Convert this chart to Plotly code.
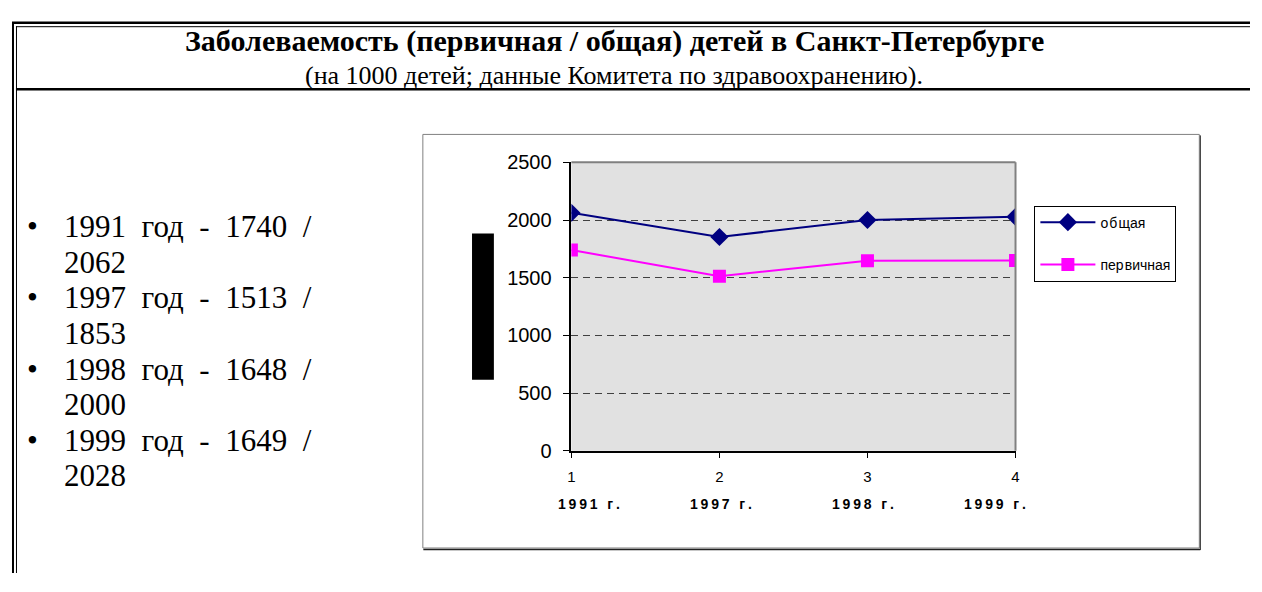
import plotly.graph_objects as go

# ---- data ----
x_index = [1, 2, 3, 4]
year_labels = ["1991 г.", "1997 г.", "1998 г.", "1999 г."]
year_label_pos = [1.12, 2.01, 2.97, 3.86]
obshchaya = [2062, 1853, 2000, 2028]
pervichnaya = [1740, 1513, 1648, 1649]
bullet_years = ["1991", "1997", "1998", "1999"]
series_names = ["о\u200aб\u200aщая", "пер\u200aвичная"]

title_text = "Заболеваемость (первичная / общая) детей в Санкт-Петербурге"
subtitle_text = "(на 1000 детей; данные Комитета по здравоохранению)."

# the page body has an 8px margin; size the figure so the page never overflows
OFF = 8
W, H = 1262 - 2 * OFF, 592 - 2 * OFF


def px(x):
    return (x - OFF) / W


def py(y):
    return 1 - (y - OFF) / H


serif = "Liberation Serif, Times New Roman, serif"
sans = "Liberation Sans, Arial, sans-serif"

fig = go.Figure()
fig.add_trace(go.Scatter(
    x=x_index, y=obshchaya, name=series_names[0], mode="lines+markers",
    line=dict(color="#000080", width=2),
    marker=dict(symbol="diamond", size=14, color="#000080"),
    legendgroup="a"))
fig.add_trace(go.Scatter(
    x=x_index, y=pervichnaya, name=series_names[1], mode="lines+markers",
    line=dict(color="#FF00FF", width=2),
    marker=dict(symbol="square", size=13, color="#FF00FF"),
    legendgroup="b"))

fig.update_layout(
    width=W, height=H,
    margin=dict(l=0, r=0, t=0, b=0),
    paper_bgcolor="white",
    plot_bgcolor="#E1E1E1",
    showlegend=True,
    legend=dict(x=px(1037), y=py(202), xanchor="left", yanchor="top",
                bordercolor="black", borderwidth=1, bgcolor="white",
                font=dict(family=sans, size=14, color="black"),
                itemwidth=55, tracegroupgap=21,
                traceorder="grouped"),
    xaxis=dict(domain=[px(571), px(1018)], range=[1, 4],
               tickmode="array", tickvals=x_index, ticktext=[str(v) for v in x_index],
               showgrid=False, zeroline=False, showline=True, linecolor="black", linewidth=1.5,
               ticks="outside", ticklen=5, tickcolor="black",
               tickfont=dict(family=sans, size=15, color="black"),
               ticklabelstandoff=6, fixedrange=True),
    yaxis=dict(domain=[py(457), py(157)], range=[0, 2500], dtick=500,
               showgrid=True, gridcolor="#404040", griddash="7px,5px", gridwidth=1,
               zeroline=False, showline=True, linecolor="black", linewidth=1.5,
               ticks="outside", ticklen=7, tickcolor="black",
               tickfont=dict(family=sans, size=20, color="black"),
               ticklabelstandoff=7, fixedrange=True),
)

shapes = []
# page frame: double top and left lines
shapes.append(dict(type="line", xref="paper", yref="paper", x0=px(8), x1=1, y0=py(12), y1=py(12),
                   line=dict(color="black", width=2.5)))
shapes.append(dict(type="line", xref="paper", yref="paper", x0=px(12), x1=1, y0=py(16), y1=py(16),
                   line=dict(color="black", width=1)))
shapes.append(dict(type="line", xref="paper", yref="paper", x0=px(9), x1=px(9), y0=py(11), y1=0,
                   line=dict(color="black", width=2)))
shapes.append(dict(type="line", xref="paper", yref="paper", x0=px(12.5), x1=px(12.5), y0=py(15.5), y1=0,
                   line=dict(color="black", width=1)))
# line under header
shapes.append(dict(type="line", xref="paper", yref="paper", x0=px(12), x1=1, y0=py(81), y1=py(81),
                   line=dict(color="black", width=2.5)))
# chart box
shapes.append(dict(type="rect", xref="paper", yref="paper", x0=px(421.5), x1=px(1203), y0=py(558), y1=py(128),
                   line=dict(color="#808080", width=1), layer="below"))
shapes.append(dict(type="line", xref="paper", yref="paper", x0=px(422), x1=px(1204), y0=py(559.5), y1=py(559.5),
                   line=dict(color="#202020", width=1.5)))
shapes.append(dict(type="line", xref="paper", yref="paper", x0=px(1204), x1=px(1204), y0=py(129), y1=py(560),
                   line=dict(color="#202020", width=1)))
# plot area top / right borders (gray)
shapes.append(dict(type="line", xref="x domain", yref="y domain", x0=0, x1=1, y0=1, y1=1,
                   line=dict(color="#808080", width=2)))
shapes.append(dict(type="line", xref="x domain", yref="y domain", x0=1, x1=1, y0=0, y1=1,
                   line=dict(color="#808080", width=2)))
# black block (axis-title artifact)
shapes.append(dict(type="rect", xref="paper", yref="paper", x0=px(471), x1=px(493), y0=py(383), y1=py(231),
                   fillcolor="black", line=dict(width=0)))
fig.update_layout(shapes=shapes)

ann = []
ann.append(dict(text="<b>" + title_text + "</b>", xref="paper", yref="paper", x=px(614), y=py(31),
                xanchor="center", yanchor="middle", showarrow=False,
                font=dict(family=serif, size=30, color="black")))
ann.append(dict(text=subtitle_text, xref="paper", yref="paper", x=px(614), y=py(67),
                xanchor="center", yanchor="middle", showarrow=False,
                font=dict(family=serif, size=26, color="black")))

# bullets
line_y = [224, 261, 298, 335, 372, 409, 446, 483]
for i, yr in enumerate(bullet_years):
    o = obshchaya[i]
    p = pervichnaya[i]
    ann.append(dict(text="•", xref="paper", yref="paper", x=px(29), y=py(line_y[2 * i]),
                    xanchor="center", yanchor="middle", showarrow=False,
                    font=dict(family=serif, size=31, color="black")))
    ann.append(dict(text=f"{yr}  год  -  {p}  /", xref="paper", yref="paper", x=px(58), y=py(line_y[2 * i]),
                    xanchor="left", yanchor="middle", showarrow=False,
                    font=dict(family=serif, size=31, color="black")))
    ann.append(dict(text=f"{o}", xref="paper", yref="paper", x=px(58), y=py(line_y[2 * i + 1]),
                    xanchor="left", yanchor="middle", showarrow=False,
                    font=dict(family=serif, size=31, color="black")))

# category labels under the x axis
for lab, pos in zip(year_labels, year_label_pos):
    spaced = "\u2009".join(list(lab.replace(" ", "")))
    spaced = spaced.replace("г", "\u2002г")
    ann.append(dict(text="<b>" + spaced + "</b>", xref="x", yref="paper", x=pos, y=py(512),
                    xanchor="center", yanchor="middle", showarrow=False,
                    font=dict(family=sans, size=14, color="black")))

fig.update_layout(annotations=ann)

fig.write_html("out.html")
